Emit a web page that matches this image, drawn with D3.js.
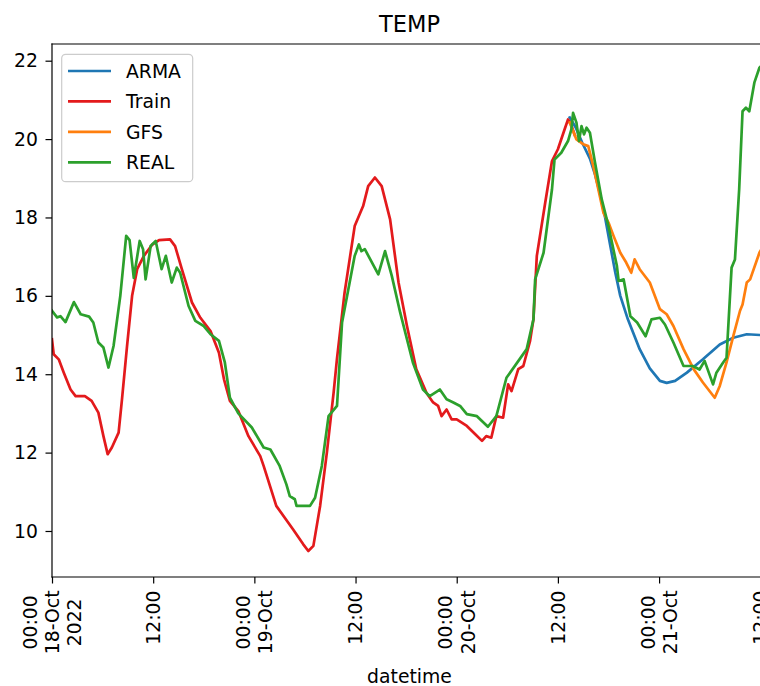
<!DOCTYPE html>
<html>
<head>
<meta charset="utf-8">
<script src="https://cdn.jsdelivr.net/npm/d3@7"></script>
<style>
  html, body { margin: 0; padding: 0; background: #fff; }
  svg { display: block; font-family: "DejaVu Sans", sans-serif; }
</style>
</head>
<body>
<div id="chart"></div>
<script>
// hours since 2022-10-18 00:00
const realHours = [0, 0.6, 1.0, 1.6, 2.6, 3.4, 4.4, 4.9, 5.5, 6.1, 6.7, 7.3, 8.1, 8.8, 9.2, 9.7, 10.4, 10.8, 11.1, 11.7,
  12.3, 13.0, 13.5, 14.2, 14.8, 15.2, 16.2, 17.0, 18.0, 18.8, 19.8, 20.5, 21.1, 22.1, 23.7, 25.1, 25.9, 27.0, 27.8, 28.2,
  28.8, 29.0, 30.6, 31.2, 32.0, 32.8, 33.8, 34.4, 35.3, 35.9, 36.4, 36.7, 37.1, 38.7, 39.5, 40.3, 41.3, 42.8, 44.0, 44.8,
  46.0, 46.8, 47.6, 48.4, 49.2, 50.4, 51.7, 52.7, 53.9, 56.3, 57.1, 57.3, 58.3, 59.3, 59.6, 60.4, 61.2, 61.6, 61.8, 62.2,
  62.5, 62.8, 63.1, 63.4, 63.8, 64.4, 65.2, 66.0, 67.0, 67.2, 67.8, 68.6, 69.4, 70.4, 71.1, 72.1, 72.7, 73.7, 74.9, 76.0,
  76.8, 77.4, 78.4, 78.8, 79.6, 80.0, 80.6, 81.0, 81.5, 81.9, 82.3, 82.7, 83.3, 83.9, 84.8];
const realTemp = [15.62, 15.45, 15.48, 15.33, 15.84, 15.53, 15.47, 15.32, 14.81, 14.68, 14.17, 14.72, 16.0, 17.53, 17.42, 16.46, 17.40, 17.19, 16.42, 17.27,
  17.40, 16.68, 17.02, 16.34, 16.72, 16.59, 15.74, 15.36, 15.23, 15.02, 14.85, 14.30, 13.40, 13.0, 12.64, 12.13, 12.08, 11.66, 11.19, 10.89,
  10.81, 10.64, 10.64, 10.85, 11.66, 12.93, 13.19, 15.32, 16.34, 17.02, 17.31, 17.14, 17.19, 16.55, 17.14, 16.51, 15.57, 14.30, 13.61, 13.44,
  13.61, 13.36, 13.28, 13.19, 12.98, 12.93, 12.66, 12.93, 13.91, 14.64, 15.40, 16.42, 17.10, 18.72, 19.48, 19.65, 19.95, 20.25, 20.67, 20.42,
  19.95, 20.33, 20.12, 20.29, 20.16, 19.40, 18.46, 17.78, 16.76, 16.38, 16.42, 15.48, 15.32, 14.97, 15.40, 15.44, 15.27, 14.81, 14.21, 14.21,
  14.12, 14.34, 13.74, 14.04, 14.30, 14.42, 16.72, 16.93, 18.72, 20.71, 20.80, 20.71, 21.44, 21.82, 22.0];

const trainHours = [0, 0.2, 0.8, 1.4, 2.2, 2.8, 3.9, 4.7, 5.5, 6.1, 6.6, 7.1, 7.9, 8.3, 8.9, 9.5, 10.1, 10.9, 11.9, 12.7,
  14.0, 14.6, 15.4, 16.6, 17.6, 18.8, 19.8, 20.4, 21.1, 22.1, 23.3, 24.7, 25.1, 26.6, 28.6, 29.8, 30.4, 31.0, 31.8, 32.6,
  33.4, 33.8, 34.7, 35.9, 36.9, 37.5, 38.3, 39.1, 40.1, 41.1, 42.1, 43.2, 44.4, 45.2, 45.8, 46.2, 46.8, 47.4, 48.0, 49.2,
  50.2, 51.0, 51.5, 52.1, 52.7, 53.5, 54.1, 54.5, 55.3, 55.9, 56.7, 57.1, 57.5, 58.5, 59.3, 60.0, 60.8, 61.2, 61.6, 62.0];
const trainTemp = [14.89, 14.51, 14.38, 14.04, 13.61, 13.44, 13.44, 13.32, 13.02, 12.42, 11.96, 12.13, 12.51, 13.36, 14.72, 16.0, 16.68, 17.02, 17.31, 17.42,
  17.44, 17.27, 16.68, 15.83, 15.44, 15.10, 14.55, 13.87, 13.32, 13.06, 12.42, 11.91, 11.66, 10.64, 10.04, 9.66, 9.49, 9.62, 10.64, 12.0,
  13.53, 14.40, 16.08, 17.78, 18.29, 18.80, 19.02, 18.80, 17.95, 16.34, 15.23, 14.13, 13.53, 13.28, 13.19, 12.93, 13.10, 12.85, 12.85, 12.68,
  12.47, 12.30, 12.42, 12.38, 12.93, 12.89, 13.74, 13.57, 14.13, 14.21, 14.85, 15.40, 17.02, 18.38, 19.44, 19.74, 20.25, 20.50, 20.35, 20.10];

const armaHours = [61.4, 62.1, 62.9, 63.8, 64.4, 65.0, 65.6, 66.2, 66.8, 67.4, 68.3, 69.7, 70.9, 72.1, 72.9, 73.9, 75.3, 77.2, 79.2, 80.8, 82.4, 84.0, 84.8];
const armaTemp = [20.55, 20.30, 19.90, 19.50, 19.10, 18.60, 18.00, 17.30, 16.60, 16.00, 15.40, 14.64, 14.15, 13.83, 13.78, 13.83, 14.04, 14.38, 14.76, 14.93, 15.02, 15.00, 14.98];

const gfsHours = [61.4, 62.2, 63.0, 63.6, 64.2, 65.4, 66.0, 66.6, 67.4, 68.1, 68.7, 69.1, 69.7, 70.9, 72.1, 72.9, 73.7, 74.9, 76.1, 77.2,
  78.6, 79.2, 80.0, 80.8, 81.6, 81.9, 82.4, 82.8, 83.9, 84.8];
const gfsTemp = [20.42, 19.99, 19.87, 19.82, 19.31, 18.12, 17.87, 17.53, 17.10, 16.85, 16.59, 16.93, 16.68, 16.34, 15.66, 15.53, 15.23, 14.64, 14.13, 13.79,
  13.40, 13.70, 14.30, 14.97, 15.62, 15.78, 16.34, 16.42, 17.10, 17.45];

const yTicks = [10, 12, 14, 16, 18, 20, 22];
const xTickHours = [0, 12, 24, 36, 48, 60, 72, 84];
const xTickLabels = [["00:00", "18-Oct", "2022"], ["12:00"], ["00:00", "19-Oct"], ["12:00"],
  ["00:00", "20-Oct"], ["12:00"], ["00:00", "21-Oct"], ["12:00"]];

const seriesNames = ["ARMA", "Train", "GFS", "REAL"];
const seriesColors = ["#1f77b4", "#e31a1c", "#ff7f0e", "#2ca02c"];

const W = 760, H = 686;
const axL = 52, axR = 767, axT = 44, axB = 577;
const fs = 18.8;
const base = new Date(2022, 9, 18, 0, 0);
const at = h => new Date(base.getTime() + h * 3600e3);

const x = d3.scaleTime().domain([at(0), at(84.8)]).range([axL, axR]);
const y = d3.scaleLinear().domain([8.826, 22.426]).range([axB, axT]);

const svg = d3.select('#chart').append('svg')
  .attr('width', W).attr('height', H);

svg.append('clipPath').attr('id', 'clip')
  .append('rect').attr('x', axL).attr('y', axT)
  .attr('width', axR - axL).attr('height', axB - axT);

const line = d3.line().x(d => x(at(d[0]))).y(d => y(d[1]));
const series = [
  d3.zip(armaHours, armaTemp),
  d3.zip(trainHours, trainTemp),
  d3.zip(gfsHours, gfsTemp),
  d3.zip(realHours, realTemp)
];

const plot = svg.append('g').attr('clip-path', 'url(#clip)');
series.forEach((s, i) => {
  plot.append('path')
    .datum(s)
    .attr('d', line)
    .attr('fill', 'none')
    .attr('stroke', seriesColors[i])
    .attr('stroke-width', 2.7)
    .attr('stroke-linejoin', 'round')
    .attr('stroke-linecap', 'square');
});

// y axis
const yAxis = svg.append('g')
  .attr('transform', `translate(${axL},0)`)
  .call(d3.axisLeft(y).tickValues(yTicks).tickSize(6.5).tickPadding(7.5).tickSizeOuter(0));
yAxis.select('.domain').remove();
yAxis.selectAll('.tick line').attr('stroke', '#000').attr('stroke-width', 1.2);
yAxis.selectAll('.tick text')
  .attr('font-size', fs).attr('fill', '#000')
  .attr('font-family', '"DejaVu Sans", sans-serif');

// x axis
const xAxis = svg.append('g')
  .attr('transform', `translate(0,${axB})`)
  .call(d3.axisBottom(x).tickValues(xTickHours.map(at)).tickSize(6.5).tickFormat('').tickSizeOuter(0));
xAxis.select('.domain').remove();
xAxis.selectAll('.tick line').attr('stroke', '#000').attr('stroke-width', 1.2);

// rotated multi-line tick labels
const measure = svg.append('text').attr('font-size', fs).attr('visibility', 'hidden');
xTickHours.forEach((h, i) => {
  const lines = xTickLabels[i];
  let wMax = 0;
  lines.forEach(t => { measure.text(t); wMax = Math.max(wMax, measure.node().getComputedTextLength()); });
  const cy = axB + 6.5 + 7 + wMax / 2;
  const lh = fs * 1.18;
  lines.forEach((t, j) => {
    const cx = x(at(h)) + (j - (lines.length - 1) / 2) * lh;
    svg.append('text')
      .attr('transform', `translate(${cx},${cy}) rotate(-90)`)
      .attr('text-anchor', 'middle')
      .attr('dy', '0.36em')
      .attr('font-size', fs)
      .attr('fill', '#000')
      .text(t);
  });
});
measure.remove();

// spines
const spines = [[axL, axT, axL, axB], [axL, axB, axR, axB], [axL, axT, axR, axT], [axR, axT, axR, axB]];
spines.forEach(s => {
  svg.append('line')
    .attr('x1', s[0]).attr('y1', s[1]).attr('x2', s[2]).attr('y2', s[3])
    .attr('stroke', '#000').attr('stroke-width', 1.2).attr('stroke-linecap', 'square');
});

// title and x label
svg.append('text')
  .attr('x', (axL + axR) / 2).attr('y', 32)
  .attr('text-anchor', 'middle')
  .attr('font-size', 22.5)
  .text('TEMP');

svg.append('text')
  .attr('x', (axL + axR) / 2).attr('y', 683)
  .attr('text-anchor', 'middle')
  .attr('font-size', fs)
  .text('datetime');

// legend
const lg = svg.append('g');
lg.append('rect')
  .attr('x', 61.7).attr('y', 54.3).attr('width', 131).attr('height', 127.4)
  .attr('rx', 4).attr('fill', '#fff').attr('fill-opacity', 0.8)
  .attr('stroke', '#cccccc').attr('stroke-width', 1.2);
seriesNames.forEach((name, i) => {
  const ry = 71 + i * 30.45;
  lg.append('line')
    .attr('x1', 68).attr('x2', 111).attr('y1', ry).attr('y2', ry)
    .attr('stroke', seriesColors[i]).attr('stroke-width', 2.7);
  lg.append('text')
    .attr('x', 126).attr('y', ry).attr('dy', '0.36em')
    .attr('font-size', fs)
    .text(name);
});
</script>
</body>
</html>
